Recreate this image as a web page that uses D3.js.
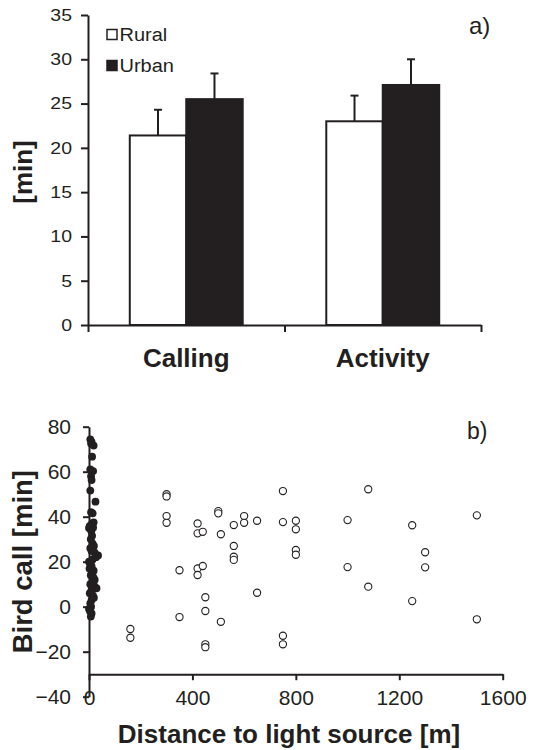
<!DOCTYPE html>
<html>
<head>
<meta charset="utf-8">
<script src="https://cdn.jsdelivr.net/npm/d3@7"></script>
<style>
  body { margin: 0; background: #fff; }
  svg { display: block; font-family: "Liberation Sans", Arial, sans-serif; }
</style>
</head>
<body>
<svg id="chart" width="535" height="750"></svg>
<script>
// ---- Data: panel a) ----
const categories = ["Calling", "Activity"];
const seriesNames = ["Rural", "Urban"];
const ruralMeans = [21.4, 23.0];
const urbanMeans = [25.5, 27.1];
const ruralErr = [24.3, 25.9];   // top of error bar
const urbanErr = [28.4, 30.0];
const barTicks = [0, 5, 10, 15, 20, 25, 30, 35];

// ---- Data: panel b) [distance m, bird call min] ----
const ruralPoints = [
  [300, 50], [300, 49], [300, 40.3], [300, 37.3], [420, 37], [420, 32.6], [440, 33.3],
  [500, 42.5], [500, 41.5], [510, 32.2], [560, 36.3], [600, 40.3], [600, 37.3], [650, 38.2],
  [750, 51.4], [750, 37.6], [800, 38.2], [800, 34.4], [560, 27], [560, 22.2], [560, 20.8],
  [800, 25.2], [800, 23.1], [350, 16.2], [420, 17], [420, 14.1], [440, 18.1], [1000, 38.5],
  [1000, 17.6], [1080, 52.2], [1080, 8.9], [1250, 36.2], [1250, 2.5], [1300, 24.2],
  [1300, 17.5], [1500, 40.6], [1500, -5.6], [650, 6.2], [450, 4.2], [450, -1.9],
  [350, -4.6], [510, -6.7], [450, -16.7], [450, -18], [750, -12.9], [750, -16.7],
  [160, -9.9], [160, -13.8]
];
const urbanPoints = [
  [5, 74.4], [10, 73.2], [18, 71.6], [8, 72.5], [12, 66.7], [5, 61], [16, 60.3], [8, 58],
  [10, 56.3], [5, 51.6], [25, 46.7], [8, 42], [14, 41.5], [18, 37.5], [12, 37], [3, 35.9],
  [16, 35.2], [0, 35], [9, 33.5], [12, 31.5], [7, 30], [14, 28], [19, 27], [5, 26],
  [10, 24.8], [22, 24], [35, 22.8], [27, 22], [14, 21], [0, 20], [5, 19], [10, 18],
  [2, 17], [18, 16], [11, 15], [7, 14], [17, 13], [22, 12], [14, 11], [5, 10],
  [20, 9.2], [29, 8.2], [10, 7.5], [3, 6], [15, 5], [19, 4], [10, 3], [5, 1.5],
  [8, 0], [0, -1], [4, -2], [10, -3], [7, -4.4]
];
const scatterXTicks = [0, 400, 800, 1200, 1600];
const scatterYTicks = [-40, -20, 0, 20, 40, 60, 80];

const ink = "#231f20";
const fontFam = '"Liberation Sans", Arial, sans-serif';
const svg = d3.select("#chart");

// ================= Panel a) =================
const gA = svg.append("g");
const xCat = d3.scaleBand().domain(categories).range([88, 481]).padding(0);
const xSer = d3.scaleBand().domain(seriesNames).range([0, xCat.bandwidth()])
  .paddingInner(0).paddingOuter(0.74);
const yA = d3.scaleLinear().domain([0, 35]).range([325, 15]);

const barData = [];
categories.forEach((c, i) => {
  barData.push({cat: c, ser: "Rural", v: ruralMeans[i], e: ruralErr[i]});
  barData.push({cat: c, ser: "Urban", v: urbanMeans[i], e: urbanErr[i]});
});

// error bars (upper only)
const errG = gA.append("g").attr("stroke", ink).attr("stroke-width", 2);
barData.forEach(d => {
  const cx = xCat(d.cat) + xSer(d.ser) + xSer.bandwidth() / 2;
  errG.append("line").attr("x1", cx).attr("x2", cx).attr("y1", yA(d.v)).attr("y2", yA(d.e));
  errG.append("line").attr("x1", cx - 4).attr("x2", cx + 4).attr("y1", yA(d.e)).attr("y2", yA(d.e));
});

gA.append("g").selectAll("rect").data(barData).join("rect")
  .attr("x", d => xCat(d.cat) + xSer(d.ser))
  .attr("y", d => yA(d.v))
  .attr("width", xSer.bandwidth())
  .attr("height", d => yA(0) - yA(d.v))
  .attr("fill", d => d.ser === "Rural" ? "#fff" : ink)
  .attr("stroke", ink).attr("stroke-width", 2);

// y axis
const yAxisA = gA.append("g").attr("transform", "translate(88,0)")
  .call(d3.axisLeft(yA).tickValues(barTicks).tickSize(7).tickSizeOuter(0).tickPadding(9));
// x axis with boundary ticks
const xBound = d3.scaleLinear().domain([0, 2]).range([88, 481]);
const xAxisA = gA.append("g").attr("transform", "translate(0,325)")
  .call(d3.axisBottom(xBound).tickValues([0, 1, 2]).tickFormat("").tickSize(7).tickSizeOuter(0));
[yAxisA, xAxisA].forEach(ax => {
  ax.attr("font-family", fontFam);
  ax.select(".domain").attr("stroke", ink).attr("stroke-width", 2);
  ax.selectAll(".tick line").attr("stroke", ink).attr("stroke-width", 2);
});
yAxisA.selectAll(".tick text").attr("font-size", 19.5).attr("fill", ink)
  .attr("transform", "scale(1,0.86)");

// category labels
gA.append("g").selectAll("text").data(categories).join("text")
  .attr("x", d => xCat(d) + xCat.bandwidth() / 2)
  .attr("y", 366.5)
  .attr("text-anchor", "middle")
  .attr("font-size", 26).attr("font-weight", "bold").attr("fill", ink)
  .text(d => d);

// y title
gA.append("text").attr("transform", "translate(32,172) rotate(-90)")
  .attr("text-anchor", "middle").attr("font-size", 26).attr("font-weight", "bold")
  .attr("fill", ink).text("[min]");

// legend
const legY = [29.5, 60.5];
seriesNames.forEach((s, i) => {
  gA.append("rect").attr("x", 107).attr("y", legY[i]).attr("width", 10).attr("height", 10)
    .attr("fill", s === "Rural" ? "#fff" : ink).attr("stroke", ink).attr("stroke-width", 1.5);
  gA.append("text").attr("transform", `translate(119.5,${legY[i] + 11}) scale(1,0.88)`)
    .attr("font-size", 20).attr("fill", ink).text(s);
});

// panel tag
gA.append("text").attr("x", 469).attr("y", 33.5).attr("font-size", 24).attr("fill", ink).text("a)");

// ================= Panel b) =================
const gB = svg.append("g");
const xB = d3.scaleLinear().domain([0, 1600]).range([89, 502.7]);
const yB = d3.scaleLinear().domain([-40, 80]).range([696.7, 426.7]);

const yAxisB = gB.append("g").attr("transform", `translate(${xB(0)},0)`)
  .call(d3.axisLeft(yB).tickValues(scatterYTicks).tickSize(6).tickSizeOuter(0).tickPadding(12));
const xAxisB = gB.append("g").attr("transform", `translate(0,${yB(-30)})`)
  .call(d3.axisBottom(xB).tickValues(scatterXTicks).tickFormat(d3.format("d"))
    .tickSize(6).tickSizeOuter(0).tickPadding(10));
[yAxisB, xAxisB].forEach(ax => {
  ax.attr("font-family", fontFam);
  ax.select(".domain").attr("stroke", ink).attr("stroke-width", 2);
  ax.selectAll(".tick line").attr("stroke", ink).attr("stroke-width", 2);
  ax.selectAll(".tick text").attr("font-size", 21).attr("fill", ink);
});
xAxisB.selectAll(".tick text").attr("dy", "0.71em").attr("y", 15.5);

// rural (open) points
gB.append("g").selectAll("circle").data(ruralPoints).join("circle")
  .attr("cx", d => xB(d[0])).attr("cy", d => yB(d[1])).attr("r", 3.6)
  .attr("fill", "#fff").attr("stroke", ink).attr("stroke-width", 1.1);

// urban (filled) points
gB.append("g").selectAll("circle").data(urbanPoints).join("circle")
  .attr("cx", d => xB(d[0])).attr("cy", d => yB(d[1])).attr("r", 3.9)
  .attr("fill", ink);

// titles
gB.append("text").attr("transform", "translate(31.5,561.7) rotate(-90)")
  .attr("text-anchor", "middle").attr("font-size", 27.5).attr("font-weight", "bold")
  .attr("fill", ink).text("Bird call [min]");
gB.append("text").attr("x", 289).attr("y", 743).attr("text-anchor", "middle")
  .attr("font-size", 26).attr("font-weight", "bold").attr("fill", ink)
  .text("Distance to light source [m]");
gB.append("text").attr("x", 467).attr("y", 439).attr("font-size", 23).attr("fill", ink).text("b)");
</script>
</body>
</html>
